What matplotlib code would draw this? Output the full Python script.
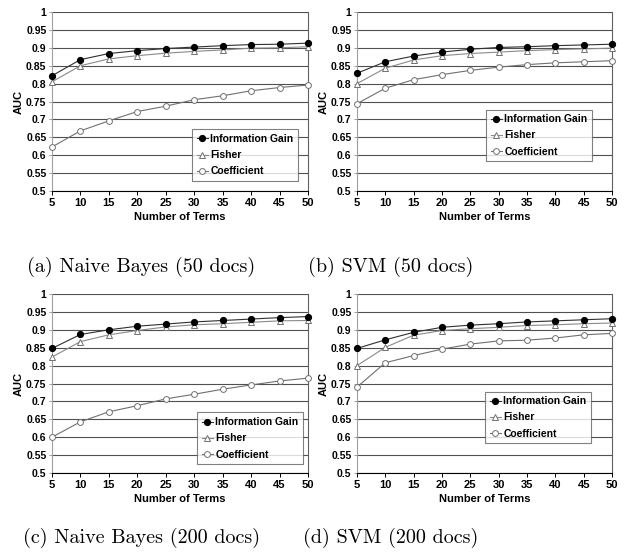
import matplotlib
matplotlib.use("Agg")
import matplotlib.pyplot as plt
import numpy as np

terms = [5, 10, 15, 20, 25, 30, 35, 40, 45, 50]

# (a) Naive Bayes, 50 docs
nb50_ig = [0.822, 0.867, 0.884, 0.892, 0.898, 0.902, 0.906, 0.909, 0.910, 0.913]
nb50_fisher = [0.805, 0.850, 0.869, 0.878, 0.885, 0.890, 0.894, 0.899, 0.900, 0.903]
nb50_coef = [0.623, 0.668, 0.696, 0.722, 0.737, 0.755, 0.766, 0.780, 0.789, 0.796]

# (b) SVM, 50 docs
svm50_ig = [0.829, 0.861, 0.877, 0.888, 0.896, 0.901, 0.903, 0.906, 0.908, 0.910]
svm50_fisher = [0.800, 0.843, 0.866, 0.878, 0.884, 0.888, 0.892, 0.895, 0.897, 0.899]
svm50_coef = [0.744, 0.787, 0.811, 0.825, 0.837, 0.846, 0.853, 0.858, 0.861, 0.864]

# (c) Naive Bayes, 200 docs
nb200_ig = [0.848, 0.887, 0.900, 0.910, 0.916, 0.922, 0.926, 0.930, 0.934, 0.937]
nb200_fisher = [0.824, 0.867, 0.886, 0.898, 0.908, 0.914, 0.917, 0.921, 0.925, 0.926]
nb200_coef = [0.600, 0.643, 0.671, 0.688, 0.707, 0.720, 0.734, 0.746, 0.757, 0.765]

# (d) SVM, 200 docs
svm200_ig = [0.848, 0.872, 0.893, 0.907, 0.913, 0.917, 0.922, 0.925, 0.928, 0.931]
svm200_fisher = [0.800, 0.851, 0.885, 0.898, 0.903, 0.907, 0.912, 0.914, 0.917, 0.919]
svm200_coef = [0.740, 0.808, 0.828, 0.846, 0.860, 0.869, 0.871, 0.877, 0.886, 0.890]

captions = ["(a) Naive Bayes (50 docs)", "(b) SVM (50 docs)",
            "(c) Naive Bayes (200 docs)", "(d) SVM (200 docs)"]

panels = [
    (nb50_ig, nb50_fisher, nb50_coef),
    (svm50_ig, svm50_fisher, svm50_coef),
    (nb200_ig, nb200_fisher, nb200_coef),
    (svm200_ig, svm200_fisher, svm200_coef),
]

W, H = 635, 555
# axes boxes in pixels: left, top, right, bottom
boxes = [(52, 12, 308, 191), (357, 12, 612, 191),
         (52, 294, 308, 473), (357, 294, 612, 473)]
legend_pos = [(0.547, 0.345), (0.506, 0.455), (0.566, 0.338), (0.502, 0.455)]
caption_pos = [(141, 267), (391, 267), (142, 538), (391, 538)]

plt.rcParams['font.family'] = ['Liberation Sans', 'DejaVu Sans']

fig = plt.figure(figsize=(W / 100, H / 100), dpi=100)

for k, (ig, fisher, coef) in enumerate(panels):
    l, t, r, b = boxes[k]
    ax = fig.add_axes([l / W, 1 - b / H, (r - l) / W, (b - t) / H])

    ax.plot(terms, ig, color="#303030", lw=0.8, marker="o", ms=4.2,
            mfc="black", mec="black", label="Information Gain", clip_on=False, zorder=4)
    ax.plot(terms, fisher, color="#8a8a8a", lw=0.8, marker="^", ms=4.2,
            mfc="white", mec="#707070", mew=0.7, label="Fisher", clip_on=False, zorder=3)
    ax.plot(terms, coef, color="#707070", lw=0.8, marker="o", ms=4.2,
            mfc="white", mec="#707070", mew=0.7, label="Coefficient", clip_on=False, zorder=3)

    ax.set_xlim(5, 50)
    ax.set_ylim(0.5, 1.0)
    ax.set_xticks(terms)
    yt = np.arange(0.5, 1.0001, 0.05)
    ax.set_yticks(yt)
    ax.set_yticklabels(["%g" % round(v, 2) for v in yt])
    ax.yaxis.grid(True, color="#505050", lw=0.8)
    ax.set_axisbelow(True)

    ax.spines["top"].set_visible(False)
    ax.spines["right"].set_color("#606060")
    ax.spines["right"].set_linewidth(0.8)
    ax.spines["left"].set_color("#a0a0a0")
    ax.spines["left"].set_linewidth(0.8)
    ax.spines["bottom"].set_color("black")
    ax.spines["bottom"].set_linewidth(0.8)

    ax.tick_params(axis="x", direction="out", length=3, width=0.7, pad=2,
                   labelsize=8)
    ax.tick_params(axis="y", direction="out", length=2, width=0.7, color="#a0a0a0",
                   pad=2, labelsize=7.5)
    for lab in ax.get_xticklabels() + ax.get_yticklabels():
        lab.set_fontweight("bold")

    ax.set_xlabel("Number of Terms", fontsize=8, fontweight="bold", labelpad=3)
    ax.set_ylabel("AUC", fontsize=8, fontweight="bold", labelpad=2)

    leg = ax.legend(loc="upper left", bbox_to_anchor=legend_pos[k],
                    prop={"size": 7.5, "weight": "bold"}, frameon=True,
                    fancybox=False, shadow=False, handlelength=1.1,
                    handletextpad=0.2, borderpad=0.45, labelspacing=0.6,
                    borderaxespad=0)
    leg.get_frame().set_edgecolor("#606060")
    leg.get_frame().set_linewidth(0.8)

    cx, cy = caption_pos[k]
    fig.text(cx / W, 1 - cy / H, captions[k], ha="center", va="center",
             fontsize=14.5, family="cmr10")

fig.savefig("out.png", dpi=100)
